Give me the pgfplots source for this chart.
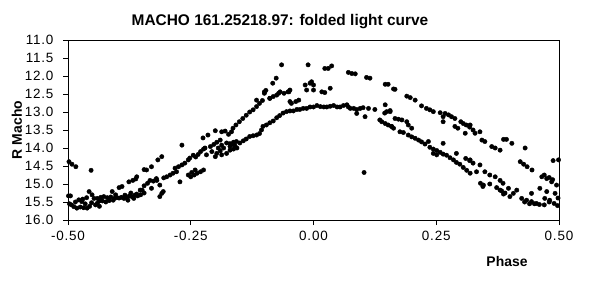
\documentclass[border=0pt]{standalone}
\usepackage{fontspec}
\setmainfont{Liberation Sans}
\usepackage{pgfplots}
\pgfplotsset{compat=1.18}
\pgfplotstableread{
ph mag
-0.498 14.38
-0.492 14.45
-0.484 14.52
-0.453 14.62
-0.499 15.33
-0.495 15.33
-0.497 15.55
-0.493 15.58
-0.488 15.63
-0.482 15.67
-0.478 15.44
-0.472 15.49
-0.475 15.64
-0.468 15.66
-0.461 15.67
-0.465 15.55
-0.457 15.21
-0.451 15.30
-0.447 15.40
-0.440 15.40
-0.444 15.58
-0.440 15.53
-0.436 15.62
-0.433 15.37
-0.427 15.35
-0.420 15.38
-0.413 15.36
-0.430 15.47
-0.423 15.50
-0.416 15.46
-0.410 15.21
-0.406 15.40
-0.401 15.38
-0.396 15.39
-0.391 15.37
-0.386 15.40
-0.403 15.30
-0.380 15.38
-0.375 15.33
-0.369 15.36
-0.364 15.31
-0.358 15.33
-0.352 15.30
-0.372 15.25
-0.345 15.25
-0.349 15.17
-0.390 15.07
-0.396 15.10
-0.408 15.45
-0.456 15.62
-0.452 15.52
-0.470 15.42
-0.485 15.50
-0.462 15.38
-0.436 15.47
-0.384 15.31
-0.378 15.45
-0.366 15.40
-0.360 15.28
-0.376 14.94
-0.368 14.90
-0.362 14.86
-0.360 14.80
-0.345 14.60
-0.330 14.52
-0.317 14.33
-0.309 14.24
-0.333 14.90
-0.326 14.92
-0.319 14.90
-0.330 15.12
-0.313 15.03
-0.309 15.26
-0.313 15.35
-0.305 14.83
-0.299 14.80
-0.292 14.75
-0.286 14.70
-0.279 14.66
-0.282 14.56
-0.275 14.52
-0.268 14.47
-0.272 14.94
-0.268 13.92
-0.262 14.42
-0.255 14.33
-0.252 14.28
-0.245 14.20
-0.255 14.75
-0.248 14.68
-0.241 14.61
-0.240 14.25
-0.235 14.18
-0.230 14.10
-0.224 14.03
-0.221 14.00
-0.218 14.19
-0.225 13.72
-0.215 13.64
-0.200 13.52
-0.210 13.96
-0.203 13.90
-0.197 13.84
-0.190 13.78
-0.207 14.10
-0.200 14.24
-0.194 14.00
-0.187 13.92
-0.187 13.55
-0.180 13.53
-0.173 13.62
-0.167 13.55
-0.177 13.86
-0.170 13.96
-0.164 13.90
-0.160 13.93
-0.250 14.80
-0.243 14.75
-0.237 14.70
-0.230 14.66
-0.224 14.61
-0.187 14.19
-0.177 14.15
-0.197 14.15
-0.190 14.08
-0.183 14.00
-0.170 13.88
-0.163 13.84
-0.157 13.82
-0.306 15.21
-0.340 14.61
-0.353 15.17
-0.345 15.05
-0.338 14.98
-0.320 14.85
-0.164 13.45
-0.158 13.36
-0.151 13.27
-0.144 13.18
-0.137 13.09
-0.130 13.00
-0.123 12.94
-0.116 12.85
-0.110 12.76
-0.104 12.68
-0.100 12.44
-0.097 12.40
-0.083 12.20
-0.076 12.06
-0.065 11.69
-0.170 14.06
-0.163 14.03
-0.156 14.00
-0.150 13.86
-0.143 13.80
-0.137 13.75
-0.130 13.68
-0.123 13.66
-0.116 13.64
-0.110 13.60
-0.106 13.50
-0.103 13.40
-0.096 13.36
-0.089 13.30
-0.082 13.25
-0.075 13.16
-0.069 13.10
-0.062 13.03
-0.055 12.99
-0.048 12.97
-0.041 12.97
-0.034 12.93
-0.028 12.93
-0.021 12.90
-0.014 12.90
-0.007 12.86
0.000 12.86
-0.089 12.62
-0.082 12.57
-0.075 12.53
-0.071 12.48
-0.068 12.44
-0.050 12.44
-0.048 12.39
-0.048 12.71
-0.045 12.76
-0.017 12.25
-0.014 12.39
-0.011 11.69
-0.004 12.16
0.000 12.25
-0.116 12.67
-0.100 12.48
-0.089 12.62
-0.060 12.48
-0.052 12.44
-0.036 12.71
-0.030 12.67
0.023 11.79
0.030 11.79
0.037 11.72
0.071 11.90
0.078 11.93
0.085 11.94
0.108 12.04
0.115 12.06
0.146 12.23
0.152 12.23
0.163 12.36
-0.007 12.20
0.000 12.39
0.017 12.44
0.023 12.46
0.034 12.34
0.007 12.82
0.014 12.85
0.021 12.86
0.027 12.86
0.034 12.84
0.041 12.82
0.048 12.86
0.054 12.86
0.061 12.82
0.068 12.80
0.071 12.86
0.075 12.90
0.082 12.90
0.088 12.93
0.088 13.04
0.095 12.90
0.101 12.88
0.105 13.13
0.112 12.90
0.125 12.93
0.146 12.80
0.149 12.99
0.156 12.96
0.139 13.27
0.146 13.32
0.152 13.36
0.159 13.40
0.163 13.45
0.103 14.68
0.135 13.22
0.145 13.03
0.166 12.37
0.190 12.56
0.197 12.60
0.207 12.67
0.220 12.83
0.230 12.90
0.237 12.94
0.244 12.99
0.258 13.02
0.264 13.13
0.268 13.04
0.275 13.08
0.281 13.13
0.288 13.18
0.264 13.27
0.288 13.40
0.294 13.45
0.300 13.27
0.305 13.32
0.311 13.36
0.318 13.42
0.325 13.50
0.309 13.59
0.156 12.99
0.166 13.18
0.173 13.20
0.180 13.22
0.190 13.27
0.193 13.36
0.200 13.45
0.159 13.40
0.176 13.55
0.183 13.57
0.193 13.64
0.200 13.69
0.207 13.73
0.214 13.78
0.220 13.83
0.227 13.89
0.234 13.82
0.264 13.87
0.237 13.98
0.244 14.03
0.251 14.07
0.258 14.12
0.264 14.17
0.271 14.20
0.278 14.27
0.285 14.33
0.291 14.40
0.298 14.45
0.305 14.54
0.312 14.62
0.319 14.70
0.291 14.15
0.310 14.29
0.318 14.35
0.244 14.15
0.251 14.19
0.319 13.36
0.329 13.59
0.339 13.55
0.343 13.78
0.349 13.82
0.363 13.96
0.370 14.00
0.380 14.06
0.387 13.76
0.393 13.76
0.404 13.87
0.431 14.00
0.488 14.35
0.499 14.33
0.319 14.33
0.325 14.42
0.339 14.47
0.332 14.66
0.349 14.66
0.359 14.75
0.370 14.80
0.380 14.90
0.386 14.98
0.397 15.12
0.407 15.26
0.421 14.38
0.428 14.45
0.435 14.52
0.445 14.61
0.465 14.80
0.475 14.85
0.485 14.94
0.495 15.03
0.346 15.03
0.359 15.00
0.373 15.10
0.383 15.19
0.387 15.28
0.400 15.35
0.414 15.17
0.424 15.40
0.434 15.45
0.444 15.49
0.454 15.54
0.461 15.12
0.475 15.21
0.471 15.40
0.481 15.45
0.490 15.54
0.492 15.26
0.498 15.39
0.470 14.75
0.480 14.82
0.487 14.88
0.430 15.50
0.440 15.55
0.450 15.55
0.460 15.57
0.470 15.58
0.480 15.50
0.497 15.60
0.444 15.26
0.340 14.98
0.345 15.07
0.380 15.17
0.390 15.25
}\datatable
\begin{document}
\begin{tikzpicture}
\path[use as bounding box] (-68bp,-74bp) rectangle (521bp,220bp);
\begin{axis}[at={(0,0)}, anchor=south west, scale only axis,
  width=491bp, height=180bp,
  xmin=-0.5, xmax=0.5, ymin=11, ymax=16, y dir=reverse,
  xtick={-0.5,-0.25,0,0.25,0.5},
  xticklabels={-0.50,-0.25,0.00,0.25,0.50},
  ytick={11,11.5,12,12.5,13,13.5,14,14.5,15,15.5,16},
  yticklabels={11.0,11.5,12.0,12.5,13.0,13.5,14.0,14.5,15.0,15.5,16.0},
  tick align=outside, xtick pos=bottom, ytick pos=left,
  major tick length=5bp,
  tick style={black, line width=0.6bp},
  axis line style={line width=0.7bp},
  ticklabel style={font=\fontsize{13.5}{15}\selectfont\addfontfeature{LetterSpace=6}},
  yticklabel style={xshift=-6bp},
  xticklabel style={yshift=-3bp},
  clip=false]
\addplot[only marks, mark=*, mark size=2.2bp, black] table[x=ph, y=mag] {\datatable};
\end{axis}
\node[font=\bfseries\fontsize{15.5}{18}\selectfont] at (212bp,198bp) {MACHO 161.25218.97: folded light curve};
\node[font=\bfseries\fontsize{14}{16}\selectfont, rotate=90] at (-51bp,90bp) {R Macho};
\node[font=\bfseries\fontsize{14}{16}\selectfont] at (439bp,-42bp) {Phase};
\end{tikzpicture}
\end{document}
